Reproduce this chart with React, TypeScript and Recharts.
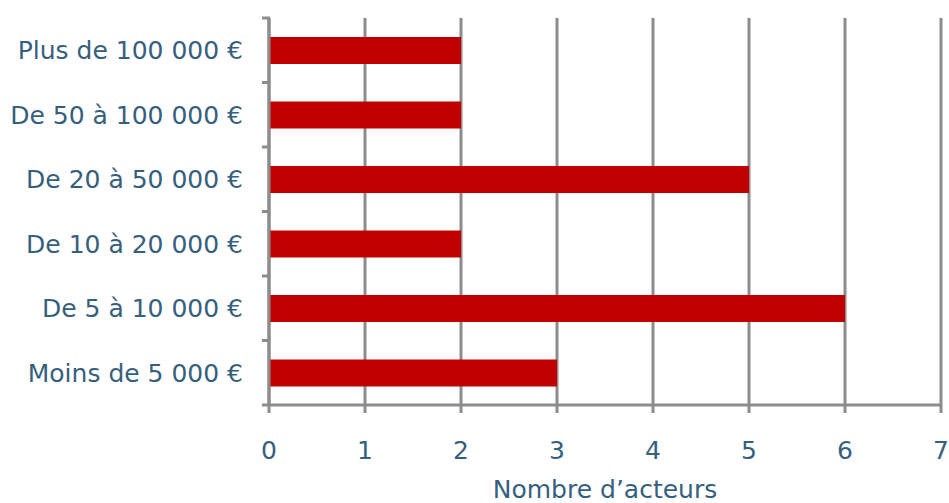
import { Bar, BarChart, CartesianGrid, XAxis, YAxis } from "recharts";

const categories = [
  "Plus de 100 000 €",
  "De 50 à 100 000 €",
  "De 20 à 50 000 €",
  "De 10 à 20 000 €",
  "De 5 à 10 000 €",
  "Moins de 5 000 €",
];
const acteurs = [2, 2, 5, 2, 6, 3];
const xTicks = [0, 1, 2, 3, 4, 5, 6, 7];

const data = categories.map((label, i) => ({ label, acteurs: acteurs[i] }));

const W = 949;
const H = 503;
const TOP = 18;
const BOTTOM = 98;
const LEFT = 269;
const RIGHT = 8;
const GRID = "#8c8c8c";
const TEXT = "#365f7e";
const FONT = "'DejaVu Sans', sans-serif";
const BAND = (H - TOP - BOTTOM) / categories.length;

// category label plus short tick marks on the band edges
function CategoryTick(props: any) {
  const { x, y, payload, index } = props;
  const half = BAND / 2;
  const ax = x + 8;
  return (
    <g>
      <line x1={ax - 7} x2={ax + 1} y1={y - half} y2={y - half} stroke={GRID} strokeWidth={3} />
      {index === categories.length - 1 && (
        <line x1={ax - 7} x2={ax + 1} y1={y + half} y2={y + half} stroke={GRID} strokeWidth={3} />
      )}
      <text
        x={ax - 26}
        y={y}
        dy="0.36em"
        textAnchor="end"
        fill={TEXT}
        fontSize={25}
        fontFamily={FONT}
      >
        {payload.value}
      </text>
    </g>
  );
}

export default function App() {
  return (
    <div style={{ position: "absolute", left: 0, top: 0, background: "#fff" }}>
      <BarChart
        width={W}
        height={H}
        data={data}
        layout="vertical"
        margin={{ top: TOP, right: RIGHT, bottom: 0, left: 0 }}
      >
        <CartesianGrid horizontal={false} stroke={GRID} strokeWidth={3} />
        <XAxis
          type="number"
          domain={[0, 7]}
          ticks={xTicks}
          interval={0}
          height={BOTTOM}
          axisLine={{ stroke: GRID, strokeWidth: 3 }}
          tickLine={{ stroke: GRID, strokeWidth: 3 }}
          tickSize={8}
          tickMargin={28}
          tick={{ fill: TEXT, fontSize: 25, fontFamily: FONT }}
          label={{
            value: "Nombre d’acteurs",
            position: "insideBottom",
            offset: 5,
            fill: TEXT,
            fontSize: 25,
            fontFamily: FONT,
          }}
        />
        <YAxis
          type="category"
          dataKey="label"
          width={LEFT}
          axisLine={{ stroke: GRID, strokeWidth: 3 }}
          tickLine={false}
          tick={<CategoryTick />}
          interval={0}
        />
        <Bar dataKey="acteurs" fill="#c00000" barSize={27} isAnimationActive={false} />
      </BarChart>
    </div>
  );
}
